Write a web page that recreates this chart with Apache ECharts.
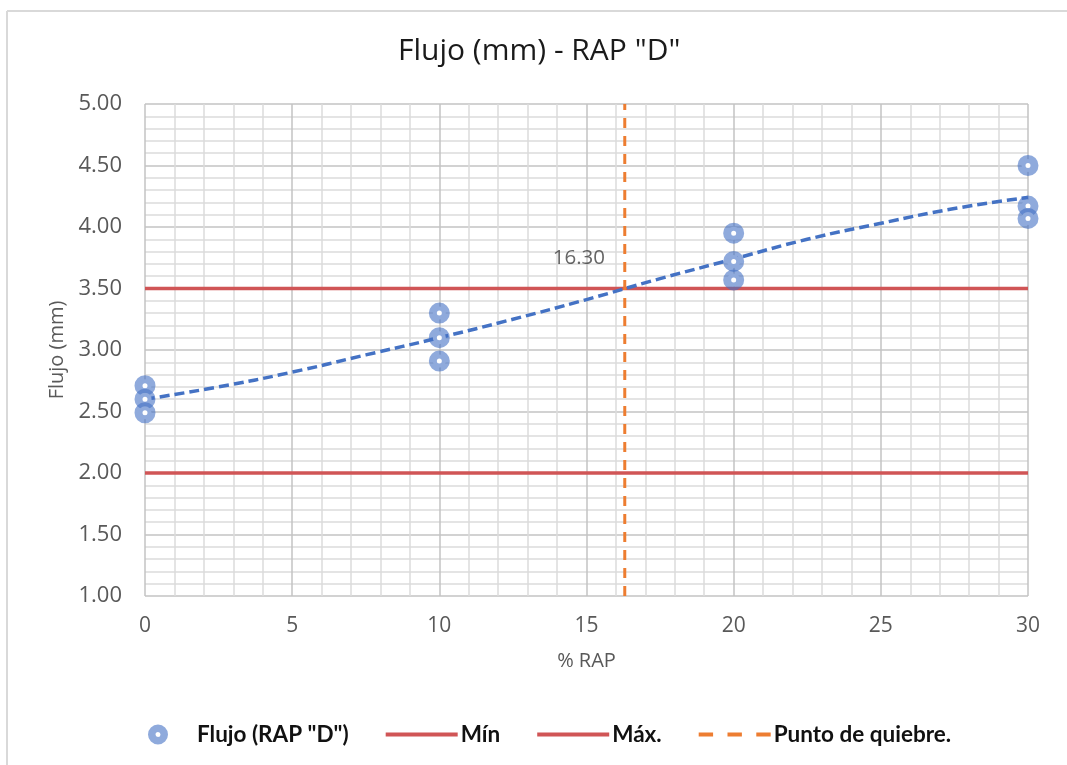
<!DOCTYPE html>
<html>
<head>
<meta charset="utf-8">
<script src="https://cdn.jsdelivr.net/npm/echarts@6/dist/echarts.min.js"></script>
<style>
  html, body { margin: 0; padding: 0; background: #fff; }
  #chart { width: 1067px; height: 765px; }
</style>
</head>
<body>
<div id="chart"></div>
<script>
// datos
let rapX = [0, 0, 0, 10, 10, 10, 20, 20, 20, 30, 30, 30];
let flujoY = [2.71, 2.60, 2.49, 3.30, 3.10, 2.91, 3.95, 3.72, 3.57, 4.50, 4.17, 4.07];

// linea de tendencia
let trendX = [0, 2.5, 5, 7.5, 10, 12.5, 15, 17.5, 20, 22.5, 25, 27.5, 30];
let trendY = [2.60, 2.70, 2.82, 2.96, 3.10, 3.25, 3.41, 3.58, 3.74, 3.90, 4.03, 4.15, 4.24];

let limMin = 2.00;
let limMax = 3.50;
let quiebreX = 16.30;
let xRange = [0, 30];
let yRange = [1, 5];

let color_blue = '#4472c4';
let color_ring = 'rgba(68,114,196,0.6)';
let color_red = '#d05556';
let color_orange = '#ed7d31';
let color_text = '#595959';

let font = 'Open Sans';

function pairs(xs, ys) {
  'use strict';
  return xs.map(function (x, i) { return [x, ys[i]]; });
}

// iconos de la leyenda
let iconRing = 'path://M10,0 A10,10 0 1,1 9.99,0 Z M10,7.5 A2.5,2.5 0 1,0 10.01,7.5 Z';
let iconLine = 'path://M0,0 L70,0 L70,4 L0,4 Z';
let iconDash = 'path://M0,0h14v4h-14z M28,0h14v4h-14z M56,0h14v4h-14z';

let dom = document.getElementById('chart');
let chart = echarts.init(dom);

let option = {
  animation: false,
  title: {
    text: 'Flujo (mm) - RAP "D"',
    left: 393,
    top: 31,
    textStyle: { fontFamily: font, fontSize: 30, fontWeight: 'normal', color: '#1a1a1a' }
  },
  graphic: [
    { type: 'line', shape: { x1: 7, y1: 11, x2: 7, y2: 765 }, style: { stroke: '#d9d9d9', lineWidth: 2 } },
    { type: 'line', shape: { x1: 7, y1: 11, x2: 1067, y2: 11 }, style: { stroke: '#d9d9d9', lineWidth: 2 } }
  ],
  grid: { left: 145, right: 39, top: 104, bottom: 169 },
  legend: {
    top: 718,
    left: 143,
    itemGap: 37,
    itemWidth: 72,
    itemHeight: 20,
    textStyle: { fontFamily: 'Lato', fontWeight: 'bold', fontSize: 22.5, color: '#111', padding: [0, 0, 0, -2] },
    data: [
      {
        name: 'Flujo (RAP "D")',
        icon: iconRing,
        itemStyle: { color: color_ring, borderWidth: 0, borderColor: 'transparent' }
      },
      { name: 'Mín', icon: iconLine, itemStyle: { color: color_red } },
      { name: 'Máx.', icon: iconLine, itemStyle: { color: color_red } },
      { name: 'Punto de quiebre.', icon: iconDash, itemStyle: { color: color_orange } }
    ]
  },
  xAxis: {
    type: 'value',
    min: xRange[0],
    max: xRange[1],
    interval: 5,
    name: '% RAP',
    nameLocation: 'middle',
    nameGap: 55,
    nameTextStyle: { fontFamily: font, fontSize: 20, color: color_text },
    axisLine: { show: false },
    axisTick: { show: false },
    axisLabel: { fontFamily: font, fontSize: 21, color: color_text, margin: 20 },
    splitLine: { lineStyle: { color: '#c3c3c3', width: 1.5 } },
    minorTick: { show: false, splitNumber: 5 },
    minorSplitLine: { show: true, lineStyle: { color: '#dcdcdc', width: 1.5 } }
  },
  yAxis: {
    type: 'value',
    min: yRange[0],
    max: yRange[1],
    interval: 0.5,
    name: 'Flujo (mm)',
    nameLocation: 'middle',
    nameGap: 78,
    nameTextStyle: { fontFamily: font, fontSize: 20, color: color_text },
    axisLine: { show: false },
    axisTick: { show: false },
    axisLabel: {
      fontFamily: font, fontSize: 22, color: color_text, margin: 23,
      formatter: function (v) { return v.toFixed(2); }
    },
    splitLine: { lineStyle: { color: '#c3c3c3', width: 1.5 } },
    minorTick: { show: false, splitNumber: 5 },
    minorSplitLine: { show: true, lineStyle: { color: '#dcdcdc', width: 1.5 } }
  },
  series: [
    {
      name: 'Mín',
      type: 'line',
      data: pairs(xRange, [limMin, limMin]),
      symbol: 'none',
      z: 3,
      itemStyle: { color: color_red },
      lineStyle: { color: color_red, width: 3.5 }
    },
    {
      name: 'Máx.',
      type: 'line',
      data: pairs(xRange, [limMax, limMax]),
      symbol: 'none',
      z: 3,
      itemStyle: { color: color_red },
      lineStyle: { color: color_red, width: 3.5 }
    },
    {
      name: 'Punto de quiebre.',
      type: 'line',
      data: pairs([quiebreX, quiebreX], yRange),
      symbol: 'none',
      z: 4,
      itemStyle: { color: color_orange },
      lineStyle: { color: color_orange, width: 3, type: [10, 8] }
    },
    {
      name: 'Tendencia',
      type: 'line',
      data: pairs(trendX, trendY),
      smooth: true,
      symbol: 'none',
      z: 5,
      itemStyle: { color: color_blue },
      lineStyle: { color: color_blue, width: 3.5, type: [10, 5] }
    },
    {
      name: 'Flujo (RAP "D")',
      type: 'scatter',
      data: pairs(rapX, flujoY),
      symbol: 'circle',
      symbolSize: 13,
      z: 6,
      itemStyle: {
        color: '#ffffff',
        borderColor: color_ring,
        borderWidth: 8,
        opacity: 1
      }
    },
    {
      name: 'etiqueta',
      type: 'scatter',
      data: [[quiebreX, limMax]],
      symbolSize: 0,
      silent: true,
      z: 7,
      label: {
        show: true,
        formatter: function () { return quiebreX.toFixed(2); },
        position: [-72, -41],
        fontFamily: font,
        fontSize: 20.5,
        color: '#404040'
      }
    }
  ]
};

option && chart.setOption(option);
</script>
</body>
</html>
